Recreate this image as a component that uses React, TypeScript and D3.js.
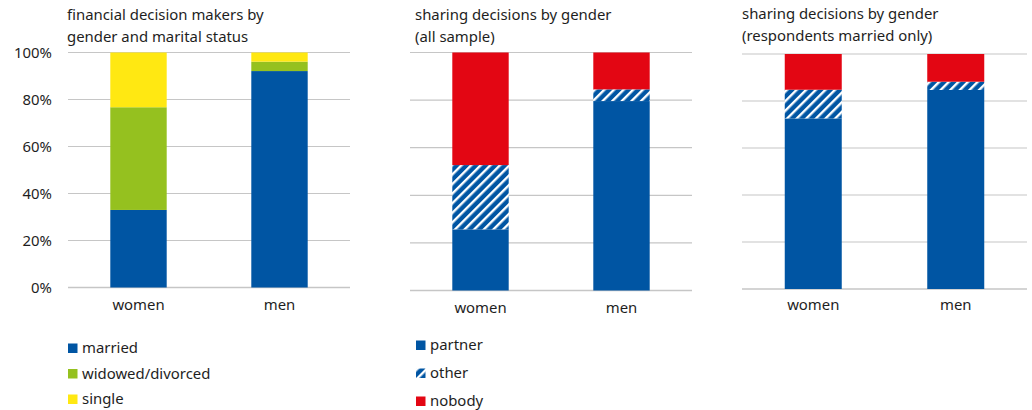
import { scaleBand, scaleLinear, stack } from "d3";
import type { ReactElement } from "react";

const categories = ["women", "men"];
const yTicks = [0, 20, 40, 60, 80, 100];

// panel 1: financial decision makers
const statusKeys = ["married", "widowed/divorced", "single"];
const married = [33, 92.1];
const widowed = [43.7, 4];
const single = [23.3, 3.9];

// panel 2: sharing decisions, all sample
const shareKeys = ["partner", "other", "nobody"];
const allPartner = [25.7, 79.6];
const allOther = [27, 4.9];
const allNobody = [47.3, 15.5];

// panel 3: sharing decisions, married only
const marPartner = [72.6, 84.7];
const marOther = [12.2, 3.5];
const marNobody = [15.2, 11.8];

const BLUE = "#0055a3";
const GREEN = "#95c11f";
const YELLOW = "#ffe812";
const RED = "#e30613";
const GRID = "#c6c6c6";
const TEXT = "#1e1e1e";
const FONT = "'Noto Sans', sans-serif";
const FS = 14.9;

type Row = Record<string, number | string>;

const buildRows = (keys: string[], series: number[][]): Row[] =>
  categories.map((c, i) => {
    const row: Row = { cat: c };
    keys.forEach((k, j) => {
      row[k] = series[j][i];
    });
    return row;
  });

type PanelProps = Readonly<{
  x0: number;
  x1: number;
  yTop: number;
  yBottom: number;
  title: string[];
  titleX: number;
  titleY: number;
  keys: string[];
  series: number[][];
  fills: string[];
  showYAxis: boolean;
  labelY: number;
  showLegend: boolean;
  legendX: number;
  legendY: number;
  legendStep: number;
}>;

const Panel = (p: PanelProps): ReactElement => {
  const rows = buildRows(p.keys, p.series);
  const stacked = stack<Row>().keys(p.keys).value((d, k) => d[k] as number)(rows);

  const x = scaleBand<string>()
    .domain(categories)
    .range([p.x0, p.x1])
    .paddingInner(0.6)
    .paddingOuter(0.3);
  const y = scaleLinear().domain([0, 100]).range([p.yBottom, p.yTop]);

  return (
    <g>
      {p.title.map((t, i) => (
        <text key={t} x={p.titleX} y={p.titleY + i * 21.5} fontSize={FS} fill={TEXT} fontFamily={FONT}>
          {t}
        </text>
      ))}

      {yTicks.map((t) => (
        <g key={t}>
          <line x1={p.x0} x2={p.x1} y1={y(t)} y2={y(t)} stroke={GRID} strokeWidth={t === 0 ? 1.6 : 1.2} />
          {p.showYAxis && (
            <text
              x={p.x0 - 16}
              y={y(t)}
              dy="0.36em"
              textAnchor="end"
              fontSize={FS}
              fill={TEXT}
              fontFamily={FONT}
            >
              {`${t}%`}
            </text>
          )}
        </g>
      ))}

      {stacked.map((layer, li) =>
        layer.map((seg, ci) => (
          <rect
            key={`${layer.key}-${ci}`}
            x={x(categories[ci])}
            width={x.bandwidth()}
            y={y(seg[1])}
            height={y(seg[0]) - y(seg[1])}
            fill={p.fills[li]}
          />
        )),
      )}

      {categories.map((c) => (
        <text
          key={c}
          x={(x(c) ?? 0) + x.bandwidth() / 2}
          y={p.labelY}
          textAnchor="middle"
          fontSize={FS}
          fill={TEXT}
          fontFamily={FONT}
        >
          {c}
        </text>
      ))}

      {p.showLegend &&
        p.keys.map((k, i) => (
          <g key={k} transform={`translate(${p.legendX},${p.legendY + i * p.legendStep})`}>
            <rect x={0} y={-9.5} width={9.5} height={9.5} fill={p.fills[i]} />
            <text x={14} y={0} fontSize={FS} fill={TEXT} fontFamily={FONT}>
              {k}
            </text>
          </g>
        ))}
    </g>
  );
};

export default function App(): ReactElement {
  const hatch = "url(#hatch)";
  return (
    <svg
      width={1032}
      height={410}
      viewBox="0 0 1032 410"
      style={{ position: "absolute", left: 0, top: 0, background: "#fff" }}
    >
      <defs>
        <pattern id="hatch" patternUnits="userSpaceOnUse" width={6.8} height={6.8} patternTransform="rotate(45)">
          <rect x={0} y={0} width={6.8} height={6.8} fill={BLUE} />
          <rect x={0} y={0} width={2.4} height={6.8} fill="#ffffff" />
        </pattern>
      </defs>

      <Panel
        x0={68}
        x1={350}
        yTop={52.5}
        yBottom={287.5}
        title={["financial decision makers by", "gender and marital status"]}
        titleX={67}
        titleY={20}
        keys={statusKeys}
        series={[married, widowed, single]}
        fills={[BLUE, GREEN, YELLOW]}
        showYAxis
        labelY={310}
        showLegend
        legendX={68}
        legendY={353}
        legendStep={25.5}
      />
      <Panel
        x0={410}
        x1={692}
        yTop={52.5}
        yBottom={290.5}
        title={["sharing decisions by gender", "(all sample)"]}
        titleX={415}
        titleY={20}
        keys={shareKeys}
        series={[allPartner, allOther, allNobody]}
        fills={[BLUE, hatch, RED]}
        showYAxis={false}
        labelY={313}
        showLegend
        legendX={416}
        legendY={350}
        legendStep={28}
      />
      <Panel
        x0={742}
        x1={1027}
        yTop={54}
        yBottom={289}
        title={["sharing decisions by gender", "(respondents married only)"]}
        titleX={742}
        titleY={19}
        keys={shareKeys}
        series={[marPartner, marOther, marNobody]}
        fills={[BLUE, hatch, RED]}
        showYAxis={false}
        labelY={310}
        showLegend={false}
        legendX={0}
        legendY={0}
        legendStep={0}
      />
    </svg>
  );
}
